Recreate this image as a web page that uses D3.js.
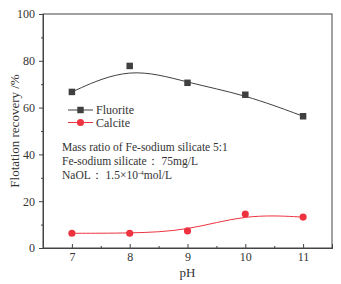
<!doctype html>
<html>
<body>
<style type="text/css">
    html,body{ margin:0; background:#fff; overflow:hidden; }
    svg text{ font-family:"Liberation Serif","DejaVu Serif",serif !important; fill:#333; }
</style>
<script src="https://d3js.org/d3.v7.min.js"></script>
<script type="text/javascript">
var pH = [7, 8, 9, 10, 11];
var fluorite = [66.7, 77.8, 70.6, 65.5, 56.3];
var calcite = [6.3, 6.3, 7.3, 14.5, 13.2];
var yTicks = [0, 20, 40, 60, 80, 100];
var notes = ["Mass ratio of Fe-sodium silicate 5:1", "Fe-sodium silicate\uff1a 75mg/L"];

(function(){
    var w = 341, h = 284,
        m = {left:43, right:9, top:14, bottom:36};

    var svg = d3.select("body").append("svg")
        .attr("width", w).attr("height", h);

    var x = d3.scaleLinear().domain([6.5, 11.5]).range([m.left, w - m.right]);
    var y = d3.scaleLinear().domain([0, 100]).range([h - m.bottom, m.top]);

    // frame
    svg.append("rect")
        .attr("x", x(6.5)).attr("y", y(100))
        .attr("width", x(11.5) - x(6.5)).attr("height", y(0) - y(100))
        .attr("fill", "none").attr("stroke", "#444").attr("stroke-width", 1);

    // x axis, ticks inward
    var gx = svg.append("g").attr("transform", "translate(0," + y(0) + ")");
    gx.call(d3.axisBottom(x).tickValues(pH).tickSize(-4).tickPadding(4).tickFormat(d3.format("d")));
    gx.append("g").call(d3.axisBottom(x).tickValues([6.5, 7.5, 8.5, 9.5, 10.5, 11.5]).tickSize(-2).tickFormat(""));
    // y axis, ticks outward
    var gy = svg.append("g").attr("transform", "translate(" + x(6.5) + ",0)");
    gy.call(d3.axisLeft(y).tickValues(yTicks).tickSize(4).tickPadding(4));
    gy.append("g").call(d3.axisLeft(y).tickValues([10, 30, 50, 70, 90]).tickSize(2).tickFormat(""));

    svg.selectAll("g").attr("font-family", null);
    svg.selectAll(".domain").attr("stroke", "#444");
    svg.selectAll(".tick line").attr("stroke", "#444");
    svg.selectAll(".tick text").attr("font-size", 12).attr("fill", "#333");

    svg.append("text").attr("x", x(9)).attr("y", 277).attr("text-anchor", "middle")
        .attr("font-size", 13).text("pH");
    svg.append("text").attr("transform", "translate(19," + y(50) + ") rotate(-90)")
        .attr("text-anchor", "middle").attr("font-size", 13).text("Flotation recovery /%");

    var line = d3.line().curve(d3.curveBasis)
        .x(function(d){ return x(d[0]); }).y(function(d){ return y(d[1]); });

    var series = [
        {name:"Fluorite", vals:fluorite, color:"#404040", shape:"square"},
        {name:"Calcite", vals:calcite, color:"#ee3340", shape:"circle"}
    ];

    series.forEach(function(s, i){
        var pts = pH.map(function(p, j){ return [p, s.vals[j]]; });
        svg.append("path").datum(pts).attr("d", line)
            .attr("fill", "none").attr("stroke", s.color).attr("stroke-width", 1);
        var sym = d3.symbol().type(s.shape == "square" ? d3.symbolSquare : d3.symbolCircle)
            .size(s.shape == "square" ? 42 : 40);
        svg.selectAll(".m" + i).data(pts).enter().append("path")
            .attr("transform", function(d){ return "translate(" + x(d[0]) + "," + y(d[1]) + ")"; })
            .attr("d", sym).attr("fill", s.color);

        // legend
        var ly = 110 + i * 12.5;
        svg.append("line").attr("x1", 68).attr("x2", 93).attr("y1", ly).attr("y2", ly)
            .attr("stroke", s.color).attr("stroke-width", 1);
        svg.append("path").attr("transform", "translate(80.5," + ly + ")")
            .attr("d", sym).attr("fill", s.color);
        svg.append("text").attr("x", 96).attr("y", ly + 4).attr("font-size", 12).text(s.name);
    });

    notes.forEach(function(t, i){
        svg.append("text").attr("x", 62).attr("y", 151 + i * 14).attr("font-size", 11.5).text(t);
    });
    var n3 = svg.append("text").attr("x", 62).attr("y", 179).attr("font-size", 11.5);
    n3.append("tspan").text("NaOL\uff1a 1.5\u00d710");
    n3.append("tspan").attr("dy", -4).attr("font-size", 7).text("-4");
    n3.append("tspan").attr("dy", 4).text("mol/L");
})();
</script>
</body>
</html>
